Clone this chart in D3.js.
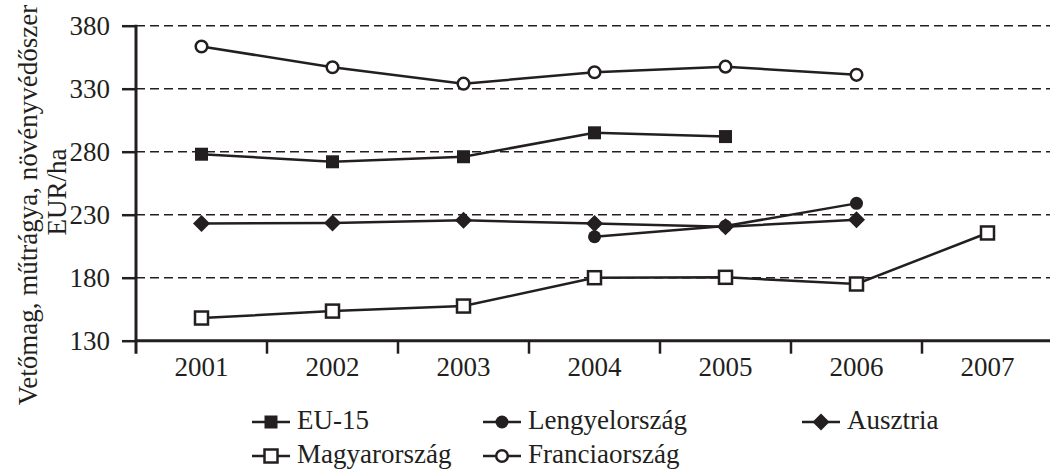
<!DOCTYPE html>
<html>
<head>
<meta charset="utf-8">
<script src="https://cdn.jsdelivr.net/npm/d3@7"></script>
<style>
  body { margin: 0; background: #fff; }
  text { font-family: "Liberation Serif", "Times New Roman", serif; fill: #231f20; }
</style>
</head>
<body>
<script>
// data
var years = ["2001", "2002", "2003", "2004", "2005", "2006", "2007"];
var yTicks = [130, 180, 230, 280, 330, 380];
var eu15 = [278, 272, 276, 295, 292, null, null];
var lengyel = [null, null, null, 212.5, 221, 239, null];
var ausztria = [223, 223.5, 225.5, 223, 220.5, 226, null];
var magyar = [148, 153.5, 157.5, 180, 180.3, 175, 215.5];
var francia = [363.5, 347, 334, 343, 347.5, 341, null];

var ink = "#231f20";
var fs = 27;

var series = [
    { name: "EU-15", values: eu15, marker: "sqFill" },
    { name: "Lengyelország", values: lengyel, marker: "dotFill" },
    { name: "Ausztria", values: ausztria, marker: "diamond" },
    { name: "Magyarország", values: magyar, marker: "sqOpen" },
    { name: "Franciaország", values: francia, marker: "dotOpen" }
];

// setting up svg area
var svg = d3.select("body")
    .append("svg")
    .attr("width", 1050)
    .attr("height", 470);

var plotL = 136, plotR = 1053, plotT = 25.7, plotB = 340.7;

var x = d3.scaleBand()
    .domain(years)
    .range([plotL, plotR]);

var y = d3.scaleLinear()
    .domain([130, 380])
    .range([plotB, plotT]);

// dashed grid
svg.append("g")
    .selectAll("line")
    .data(yTicks.filter(function(d) { return d > 130; }))
    .enter()
    .append("line")
    .attr("x1", plotL)
    .attr("x2", 1050)
    .attr("y1", function(d) { return y(d); })
    .attr("y2", function(d) { return y(d); })
    .attr("stroke", ink)
    .attr("stroke-width", 1.4)
    .attr("stroke-dasharray", "9,5");

// y axis
var yAxis = svg.append("g")
    .attr("transform", "translate(" + plotL + ",0)")
    .call(d3.axisLeft(y).tickValues(yTicks).tickSize(14).tickPadding(12));
yAxis.select(".domain").remove();
yAxis.selectAll(".tick line").attr("stroke", ink).attr("stroke-width", 2.5);
yAxis.selectAll(".tick text")
    .attr("font-size", fs)
    .attr("font-family", "Liberation Serif")
    .attr("fill", ink);

svg.append("line")
    .attr("x1", plotL).attr("x2", plotL)
    .attr("y1", plotT - 1).attr("y2", plotB + 13)
    .attr("stroke", ink)
    .attr("stroke-width", 3);

// x axis
svg.append("line")
    .attr("x1", plotL).attr("x2", 1050)
    .attr("y1", plotB).attr("y2", plotB)
    .attr("stroke", ink)
    .attr("stroke-width", 3);

svg.append("g")
    .selectAll("line")
    .data(years.slice(1))
    .enter()
    .append("line")
    .attr("x1", function(d) { return x(d); })
    .attr("x2", function(d) { return x(d); })
    .attr("y1", plotB)
    .attr("y2", plotB + 13)
    .attr("stroke", ink)
    .attr("stroke-width", 2.5);

svg.append("g")
    .selectAll("text")
    .data(years)
    .enter()
    .append("text")
    .attr("x", function(d) { return x(d) + x.bandwidth() / 2; })
    .attr("y", 376)
    .attr("text-anchor", "middle")
    .attr("font-size", fs)
    .text(function(d) { return d; });

// y axis title
svg.append("text")
    .attr("transform", "translate(37,205) rotate(-90)")
    .attr("text-anchor", "middle")
    .attr("font-size", fs)
    .text("Vetőmag, műtrágya, növényvédőszer");
svg.append("text")
    .attr("transform", "translate(66,192) rotate(-90)")
    .attr("text-anchor", "middle")
    .attr("font-size", fs)
    .text("EUR/ha");

// marker drawing
function drawMarker(g, type, cx, cy) {
    if (type === "sqFill" || type === "sqOpen") {
        g.append("rect")
            .attr("x", cx - 6.5).attr("y", cy - 6.5)
            .attr("width", 13).attr("height", 13)
            .attr("fill", type === "sqFill" ? ink : "#fff")
            .attr("stroke", ink)
            .attr("stroke-width", type === "sqFill" ? 0 : 2.5);
    } else if (type === "dotFill" || type === "dotOpen") {
        g.append("circle")
            .attr("cx", cx).attr("cy", cy)
            .attr("r", type === "dotFill" ? 6.5 : 5.8)
            .attr("fill", type === "dotFill" ? ink : "#fff")
            .attr("stroke", ink)
            .attr("stroke-width", type === "dotFill" ? 0 : 2.5);
    } else {
        g.append("path")
            .attr("d", "M" + cx + "," + (cy - 8.5) + "L" + (cx + 8.5) + "," + cy +
                "L" + cx + "," + (cy + 8.5) + "L" + (cx - 8.5) + "," + cy + "Z")
            .attr("fill", ink);
    }
}

// series lines
var line = d3.line()
    .defined(function(d) { return d.v !== null; })
    .x(function(d) { return x(d.year) + x.bandwidth() / 2; })
    .y(function(d) { return y(d.v); });

series.forEach(function(s) {
    var pts = years.map(function(yr, i) { return { year: yr, v: s.values[i] }; });
    var g = svg.append("g");
    g.append("path")
        .attr("d", line(pts))
        .attr("fill", "none")
        .attr("stroke", ink)
        .attr("stroke-width", 2.5);
    pts.filter(function(d) { return d.v !== null; }).forEach(function(d) {
        drawMarker(g, s.marker, x(d.year) + x.bandwidth() / 2, y(d.v));
    });
});

// legend
var legendPos = [
    { lx: 252, ly: 422 }, { lx: 483, ly: 422 }, { lx: 802, ly: 422 },
    { lx: 252, ly: 456 }, { lx: 483, ly: 456 }
];
series.forEach(function(s, i) {
    var p = legendPos[i];
    var g = svg.append("g");
    g.append("line")
        .attr("x1", p.lx).attr("x2", p.lx + 38)
        .attr("y1", p.ly).attr("y2", p.ly)
        .attr("stroke", ink)
        .attr("stroke-width", 2.5);
    drawMarker(g, s.marker, p.lx + 19, p.ly);
    g.append("text")
        .attr("x", p.lx + 45)
        .attr("y", p.ly + 7)
        .attr("font-size", fs)
        .text(s.name);
});
</script>
</body>
</html>
